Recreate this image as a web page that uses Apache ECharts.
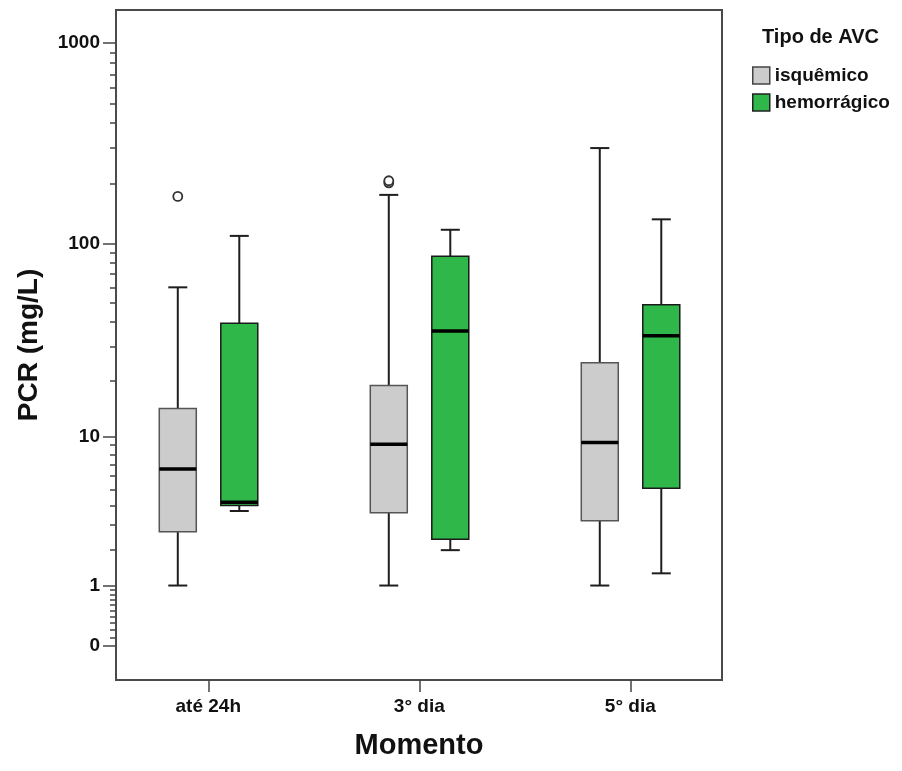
<!DOCTYPE html>
<html>
<head>
<meta charset="utf-8">
<script src="https://cdn.jsdelivr.net/npm/echarts@6/dist/echarts.min.js"></script>
<style>html,body{margin:0;padding:0;background:#fff}#c{width:902px;height:771px}</style>
</head>
<body>
<div id="c"></div>
<script>
// ---- data (PCR mg/L) ----
const categories = ['até 24h', '3° dia', '5° dia'];
const isqMin = [1, 1, 1];
const isqQ1 = [2.7, 3.6, 3.2];
const isqMed = [6.6, 9.1, 9.3];
const isqQ3 = [14.2, 18.8, 24.7];
const isqMax = [60, 175, 300];
const isqOutliers = [[0, 172], [1, 201], [1, 206]];
const hemMin = [3.7, 2.0, 1.3];
const hemQ1 = [4.0, 2.4, 5.1];
const hemMed = [4.2, 36, 34];
const hemQ3 = [39.4, 86, 49];
const hemMax = [109, 117, 132];
const hemOutliers = [];
const majorTicks = [0, 1, 10, 100, 1000];
const minorTicks = [0.1,0.2,0.3,0.4,0.5,0.6,0.7,0.8,0.9,2,3,4,5,6,7,8,9,20,30,40,50,60,70,80,90,200,300,400,500,600,700,800,900];

// axis transform log10(x+1)
const T = v => Math.log10(v + 1);
const inv = t => Math.round(Math.pow(10, t) - 1);

function boxData(mn, q1, md, q3, mx) {
  return categories.map((c, i) => [i + 1, T(mn[i]), T(q1[i]), T(md[i]), T(q3[i]), T(mx[i])]);
}
function outData(arr) { return arr.map(d => [d[0] + 1, T(d[1])]); }

const HW = 18.5, CAP = 9.5;
function boxRender(offset, fill, stroke) {
  return function (params, api) {
    const x = api.value(0);
    const cx = api.coord([x, 0])[0] + offset;
    const yMin = api.coord([x, api.value(1)])[1];
    const yQ1 = api.coord([x, api.value(2)])[1];
    const yMed = api.coord([x, api.value(3)])[1];
    const yQ3 = api.coord([x, api.value(4)])[1];
    const yMax = api.coord([x, api.value(5)])[1];
    const ws = { stroke: '#1e1e1e', lineWidth: 2 };
    return {
      type: 'group',
      children: [
        { type: 'line', shape: { x1: cx, y1: yMax, x2: cx, y2: yQ3 }, style: ws },
        { type: 'line', shape: { x1: cx, y1: yQ1, x2: cx, y2: yMin }, style: ws },
        { type: 'line', shape: { x1: cx - CAP, y1: yMax, x2: cx + CAP, y2: yMax }, style: ws },
        { type: 'line', shape: { x1: cx - CAP, y1: yMin, x2: cx + CAP, y2: yMin }, style: ws },
        { type: 'rect', shape: { x: cx - HW, y: yQ3, width: 2 * HW, height: yQ1 - yQ3 }, style: { fill: fill, stroke: stroke, lineWidth: 1.5 } },
        { type: 'line', shape: { x1: cx - HW, y1: yMed, x2: cx + HW, y2: yMed }, style: { stroke: '#000', lineWidth: 3.5 } }
      ]
    };
  };
}
function outRender(offset) {
  return function (params, api) {
    const p = api.coord([api.value(0), api.value(1)]);
    return { type: 'circle', shape: { cx: p[0] + offset, cy: p[1], r: 4.5 }, style: { fill: '#fff', stroke: '#333', lineWidth: 1.8 } };
  };
}

const GRAY = '#cccccc', GREEN = '#2fb74a';
const OFF_I = -30.5, OFF_H = 31;
const yMinT = -0.1692, yMaxT = 3.1658;
const font = 'Liberation Sans, Arial, sans-serif';

const chart = echarts.init(document.getElementById('c'), null, { renderer: 'canvas' });
chart.setOption({
  animation: false,
  backgroundColor: '#fff',
  title: {
    text: 'Tipo de AVC', left: 757, top: 22,
    textStyle: { fontFamily: font, fontWeight: 'bold', fontSize: 20, color: '#111' }
  },
  legend: {
    orient: 'vertical', left: 747, top: 61, itemWidth: 17, itemHeight: 17, itemGap: 8,
    textStyle: { fontFamily: font, fontWeight: 'bold', fontSize: 19, color: '#111' },
    data: [
      { name: 'isquêmico', icon: 'rect', itemStyle: { color: GRAY, borderColor: '#444', borderWidth: 1.5 } },
      { name: 'hemorrágico', icon: 'rect', itemStyle: { color: GREEN, borderColor: '#222', borderWidth: 1.5 } }
    ]
  },
  grid: { left: 116, top: 10, width: 606, height: 670, show: true, borderColor: '#4a4a4a', borderWidth: 2, backgroundColor: '#fff' },
  xAxis: {
    type: 'value', min: 0.5626, max: 3.4347, position: 'bottom',
    axisLine: { show: false, onZero: false }, splitLine: { show: false },
    axisTick: { show: true, customValues: [1, 2, 3], length: 12, lineStyle: { color: '#444', width: 1.5 } },
    axisLabel: { customValues: [1, 2, 3], formatter: v => categories[Math.round(v) - 1], margin: 17,
      fontFamily: font, fontWeight: 'bold', fontSize: 19, color: '#111' },
    name: 'Momento', nameLocation: 'middle', nameGap: 51,
    nameTextStyle: { fontFamily: font, fontWeight: 'bold', fontSize: 29, color: '#111', verticalAlign: 'top' }
  },
  yAxis: [
    {
      type: 'value', min: yMinT, max: yMaxT, position: 'left',
      axisLine: { show: false, onZero: false }, splitLine: { show: false },
      axisTick: { show: true, customValues: majorTicks.map(T), length: 13, lineStyle: { color: '#444', width: 1.5 } },
      axisLabel: { customValues: majorTicks.map(T), formatter: v => String(inv(v)), margin: 16,
        fontFamily: font, fontWeight: 'bold', fontSize: 19, color: '#111' },
      name: 'PCR (mg/L)', nameLocation: 'middle', nameGap: 73,
      nameTextStyle: { fontFamily: font, fontWeight: 'bold', fontSize: 28, color: '#111' }
    },
    {
      type: 'value', min: yMinT, max: yMaxT, position: 'left',
      axisLine: { show: false, onZero: false }, splitLine: { show: false },
      axisTick: { show: true, customValues: minorTicks.map(T), length: 6, lineStyle: { color: '#444', width: 1.5 } },
      axisLabel: { show: false }
    }
  ],
  series: [
    { name: 'isquêmico', type: 'custom', itemStyle: { color: GRAY }, renderItem: boxRender(OFF_I, GRAY, '#555'),
      data: boxData(isqMin, isqQ1, isqMed, isqQ3, isqMax), encode: { x: 0, y: [1, 2, 3, 4, 5] } },
    { name: 'hemorrágico', type: 'custom', itemStyle: { color: GREEN }, renderItem: boxRender(OFF_H, GREEN, '#1a1a1a'),
      data: boxData(hemMin, hemQ1, hemMed, hemQ3, hemMax), encode: { x: 0, y: [1, 2, 3, 4, 5] } },
    { name: 'isquêmico', type: 'custom', itemStyle: { color: GRAY }, renderItem: outRender(OFF_I),
      data: outData(isqOutliers), encode: { x: 0, y: 1 } },
    { name: 'hemorrágico', type: 'custom', itemStyle: { color: GREEN }, renderItem: outRender(OFF_H),
      data: outData(hemOutliers), encode: { x: 0, y: 1 } }
  ]
});
</script>
</body>
</html>
